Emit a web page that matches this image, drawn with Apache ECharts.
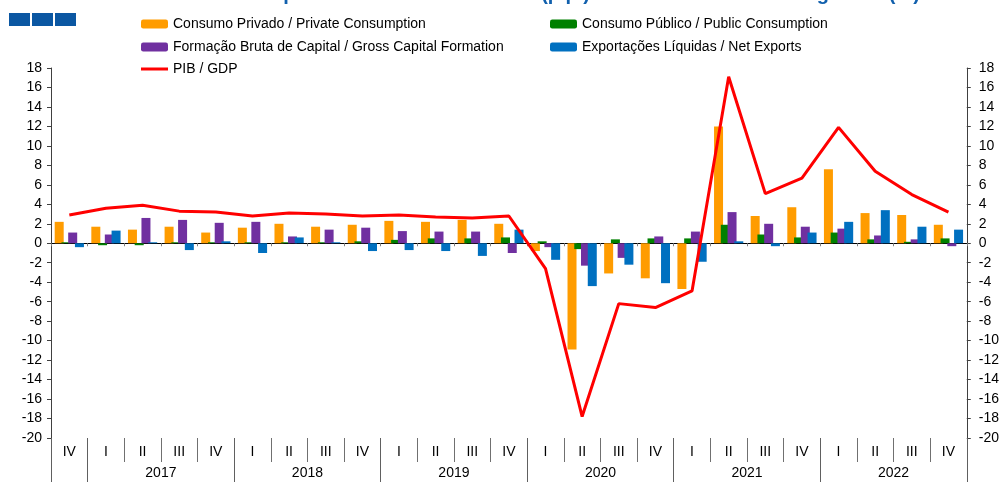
<!DOCTYPE html>
<html>
<head>
<meta charset="utf-8">
<script src="https://cdn.jsdelivr.net/npm/echarts@6/dist/echarts.min.js"></script>
<style>
  html, body { margin: 0; padding: 0; background: #fff; }
  #chart { width: 1002px; height: 482px; }
</style>
</head>
<body>
<div id="chart"></div>
<script>
// ---- data ----
const quarters = ['IV','I','II','III','IV','I','II','III','IV','I','II','III','IV','I','II','III','IV','I','II','III','IV','I','II','III','IV'];
const years = ['2017','2018','2019','2020','2021','2022'];
const yTicks = [-20, 18, 2]; // min, max, interval
const privado = [2.2,1.7,1.4,1.7,1.1, 1.6,2.0,1.7,1.9, 2.3,2.2,2.4,2.0, -0.8,-10.9,-3.1,-3.6, -4.7,12.0,2.8,3.7, 7.6,3.1,2.9,1.9];
const publico = [0.1,-0.2,-0.2,0.1,0.1, 0.1,0.1,0.1,0.2, 0.35,0.5,0.5,0.6, 0.2,-0.6,0.4,0.5, 0.5,1.9,0.9,0.6, 1.1,0.4,0.15,0.5];
const fbc = [1.1,0.9,2.6,2.4,2.1, 2.2,0.7,1.4,1.6, 1.25,1.2,1.2,-1.0, -0.4,-2.3,-1.5,0.7, 1.2,3.2,2.0,1.7, 1.5,0.8,0.4,-0.3];
const exportacoes = [-0.4,1.3,0.1,-0.7,0.2, -1.0,0.6,0.1,-0.8, -0.7,-0.8,-1.3,1.4, -1.7,-4.4,-2.2,-4.1, -1.9,0.2,-0.3,1.1, 2.2,3.4,1.7,1.4];
const pib = [2.9,3.6,3.9,3.3,3.2, 2.8,3.1,3.0,2.8, 2.9,2.7,2.6,2.8, -2.6,-17.8,-6.2,-6.6, -4.9,17.1,5.1,6.7, 11.9,7.4,5.0,3.2];
const names = ['Consumo Privado / Private Consumption','Consumo Público / Public Consumption','Formação Bruta de Capital / Gross Capital Formation','Exportações Líquidas / Net Exports','PIB / GDP'];
const titleLeft = 'Contributos para o crescimento do PIB (p.p.)';
const titleRight = ' / Contributions to GDP growth (%)';

const FONT = '"Liberation Sans", Arial, sans-serif';
const chart = echarts.init(document.getElementById('chart'), null, {renderer: 'canvas'});

function legendAt(name, left, top, extra) {
  return Object.assign({
    data: [name], left: left, top: top, padding: 0, itemWidth: 27, itemHeight: 9,
    selectedMode: false,
    textStyle: {fontFamily: FONT, fontSize: 14, color: '#000'}
  }, extra || {});
}

function yAxisCfg(pos, margin) {
  return {
    type: 'value', position: pos, min: yTicks[0], max: yTicks[1], interval: yTicks[2],
    axisLine: {show: true, lineStyle: {color: '#404040', width: 1}},
    axisTick: {show: true, length: 4, lineStyle: {color: '#404040'}},
    splitLine: {show: false},
    axisLabel: {fontFamily: FONT, fontSize: 14, color: '#000', margin: margin}
  };
}

const option = {
  backgroundColor: '#fff',
  animation: false,
  graphic: [
    {type: 'rect', shape: {x: 9, y: 13, width: 21, height: 13}, style: {fill: '#0b57a2'}},
    {type: 'rect', shape: {x: 32, y: 13, width: 21, height: 13}, style: {fill: '#0b57a2'}},
    {type: 'rect', shape: {x: 55, y: 13, width: 21, height: 13}, style: {fill: '#0b57a2'}},
    {type: 'text', x: 590, y: -16, style: {text: titleLeft, font: 'bold 20px ' + FONT, fill: '#1160ad', align: 'right', verticalAlign: 'top'}},
    {type: 'text', x: 590, y: -16, style: {text: titleRight, font: 'bold 20px ' + FONT, fill: '#1160ad', align: 'left', verticalAlign: 'top'}}
  ],
  legend: [
    legendAt(names[0], 141, 17),
    legendAt(names[1], 550, 17),
    legendAt(names[2], 141, 40),
    legendAt(names[3], 550, 40),
    legendAt(names[4], 141, 62, {itemHeight: 3, icon: 'rect'})
  ],
  grid: {left: 51, right: 30, top: 68, bottom: 44, containLabel: false},
  xAxis: [
    { // zero line with small ticks
      type: 'category', data: quarters, position: 'bottom',
      axisLine: {show: true, onZero: true, lineStyle: {color: '#000', width: 1}},
      axisTick: {show: true, length: 3, lineStyle: {color: '#808080'}},
      axisLabel: {show: false}
    },
    { // quarter labels and separators
      type: 'category', data: quarters, position: 'bottom',
      axisLine: {show: false, onZero: false},
      axisTick: {show: true, length: 24, interval: 0, lineStyle: {color: '#707070'}},
      axisLabel: {show: true, interval: 0, fontFamily: FONT, fontSize: 14, color: '#000', margin: 7}
    },
    { // year separators
      type: 'category', data: quarters, position: 'bottom',
      axisLine: {show: false, onZero: false},
      axisTick: {show: true, length: 44, interval: function (i) { return i === 0 || i % 4 === 1; }, lineStyle: {color: '#606060'}},
      axisLabel: {show: false}
    },
    { // year labels
      type: 'value', position: 'bottom', min: 0, max: quarters.length, interval: 1,
      axisLine: {show: false, onZero: false}, axisTick: {show: false}, splitLine: {show: false},
      axisLabel: {
        fontFamily: FONT, fontSize: 14, color: '#000', margin: 28,
        formatter: function (v) { const i = (v - 3) / 4; return (Number.isInteger(i) && years[i]) ? years[i] : ''; }
      }
    }
  ],
  yAxis: [yAxisCfg('left', 9), yAxisCfg('right', 12)],
  series: [
    {name: names[0], type: 'bar', data: privado, barWidth: 9, barGap: '-25%', itemStyle: {color: '#FF9C00'}},
    {name: names[1], type: 'bar', data: publico, barWidth: 9, barGap: '-25%', itemStyle: {color: '#008000'}},
    {name: names[2], type: 'bar', data: fbc, barWidth: 9, barGap: '-25%', itemStyle: {color: '#7030A0'}},
    {name: names[3], type: 'bar', data: exportacoes, barWidth: 9, barGap: '-25%', itemStyle: {color: '#0070C0'}},
    {name: names[4], type: 'line', data: pib, symbol: 'none', lineStyle: {color: '#FF0000', width: 3}, itemStyle: {color: '#FF0000'}, z: 5}
  ]
};
chart.setOption(option);
</script>
</body>
</html>
